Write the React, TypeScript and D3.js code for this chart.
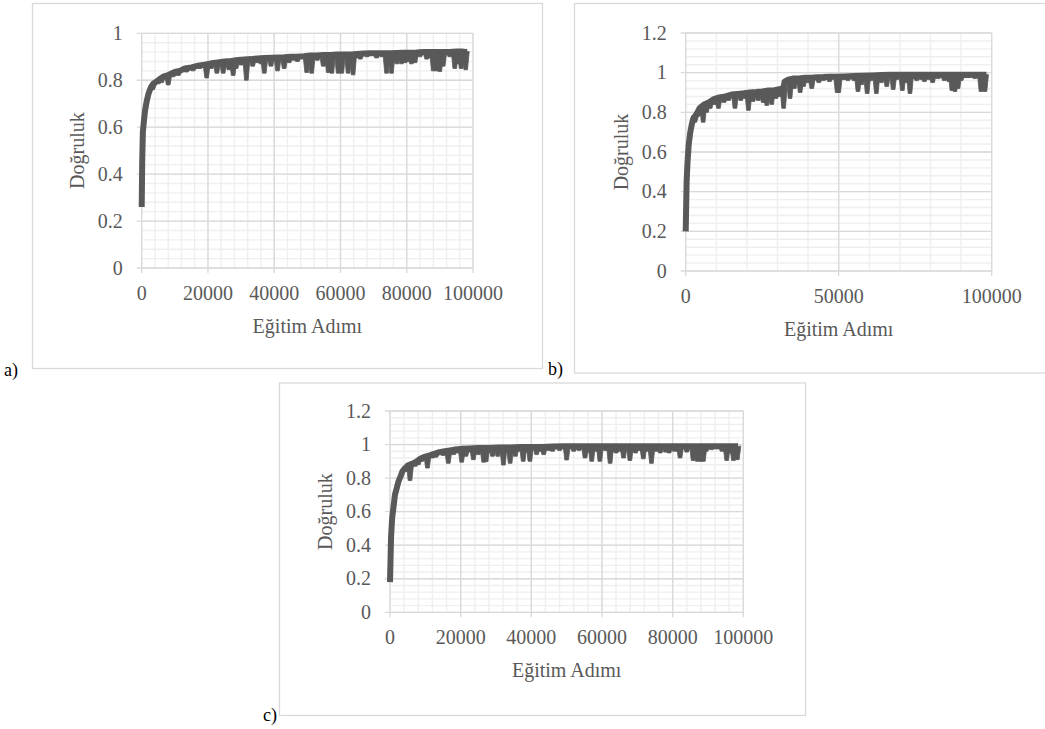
import { useEffect, useRef } from "react";
import * as d3 from "d3";

// accuracy curves: upper envelope [step, accuracy]
const seriesA = [
  [0, 0.26], [150, 0.45], [350, 0.58], [700, 0.63], [1000, 0.67], [1500, 0.71],
  [2000, 0.74], [2500, 0.76], [3000, 0.775], [3500, 0.785], [4500, 0.795],
  [5500, 0.805], [6500, 0.815], [8000, 0.822], [10000, 0.835], [11500, 0.84],
  [13000, 0.85], [15000, 0.855], [17000, 0.862], [19000, 0.866], [21000, 0.872],
  [23000, 0.876], [25000, 0.88], [27000, 0.882], [29000, 0.886], [31000, 0.888],
  [33000, 0.89], [35000, 0.893], [37000, 0.895], [39000, 0.896], [41000, 0.897],
  [43000, 0.898], [45000, 0.9], [47000, 0.9], [49000, 0.902], [51000, 0.905],
  [53000, 0.905], [55000, 0.908], [57000, 0.908], [59000, 0.91], [61000, 0.91],
  [63000, 0.91], [65000, 0.912], [67000, 0.914], [69000, 0.915], [71000, 0.915],
  [73000, 0.915], [75000, 0.915], [77000, 0.916], [79000, 0.917], [81000, 0.917],
  [83000, 0.918], [85000, 0.92], [87000, 0.92], [89000, 0.92], [91000, 0.92],
  [93000, 0.92], [95000, 0.922], [97000, 0.922], [98200, 0.92],
];
// drops below the envelope: [step, accuracy before, accuracy at the drop]
const dipsA = [
  [3300, 0.78, 0.76], [5000, 0.8, 0.785], [6000, 0.81, 0.79], [8000, 0.822, 0.78],
  [9500, 0.832, 0.815], [11000, 0.838, 0.82], [13500, 0.851, 0.835], [15500, 0.856, 0.84],
  [17500, 0.863, 0.85], [19600, 0.868, 0.81], [21000, 0.872, 0.85], [22700, 0.876, 0.83],
  [23800, 0.877, 0.86], [24600, 0.879, 0.83], [26300, 0.881, 0.845], [27600, 0.883, 0.82],
  [28500, 0.885, 0.85], [30000, 0.887, 0.865], [31600, 0.888, 0.8], [33500, 0.89, 0.86],
  [35000, 0.893, 0.875], [36000, 0.894, 0.87], [37000, 0.895, 0.83], [39000, 0.896, 0.86],
  [41000, 0.897, 0.84], [43000, 0.898, 0.85], [44500, 0.899, 0.875], [46000, 0.9, 0.885],
  [47000, 0.9, 0.88], [49800, 0.902, 0.833], [51300, 0.905, 0.83], [53000, 0.905, 0.885],
  [54800, 0.908, 0.86], [56300, 0.908, 0.833], [57400, 0.908, 0.83], [58500, 0.91, 0.89],
  [59300, 0.91, 0.83], [60400, 0.91, 0.83], [62300, 0.91, 0.83], [63800, 0.91, 0.823],
  [65000, 0.912, 0.895], [66000, 0.913, 0.89], [68000, 0.914, 0.9], [70900, 0.915, 0.895],
  [72500, 0.915, 0.9], [73900, 0.915, 0.83], [75400, 0.915, 0.83], [77000, 0.916, 0.87],
  [78400, 0.917, 0.87], [79500, 0.917, 0.875], [80500, 0.917, 0.88], [81400, 0.917, 0.87],
  [82500, 0.918, 0.875], [84000, 0.919, 0.9], [86000, 0.92, 0.89], [87000, 0.92, 0.895],
  [88000, 0.92, 0.84], [89000, 0.92, 0.84], [90000, 0.92, 0.837], [91000, 0.92, 0.86],
  [93000, 0.92, 0.9], [94500, 0.922, 0.85], [95500, 0.922, 0.87], [96400, 0.922, 0.85],
  [97800, 0.922, 0.845],
];

const seriesB = [
  [0, 0.2], [300, 0.45], [600, 0.55], [1000, 0.64], [1500, 0.7], [2000, 0.74],
  [2500, 0.77], [3500, 0.79], [4500, 0.82], [6000, 0.84], [7500, 0.85], [9000, 0.865],
  [11000, 0.875], [13000, 0.88], [15000, 0.89], [17000, 0.893], [19000, 0.896],
  [21000, 0.9], [23000, 0.902], [25000, 0.905], [27000, 0.91], [29000, 0.912],
  [31000, 0.918], [32000, 0.925], [32300, 0.955], [33500, 0.965], [35000, 0.97],
  [37000, 0.971], [39000, 0.974], [41000, 0.975], [43000, 0.977], [45000, 0.978],
  [47000, 0.98], [49000, 0.98], [52000, 0.981], [55000, 0.983], [58000, 0.985],
  [61000, 0.986], [64000, 0.988], [67000, 0.99], [70000, 0.99], [73000, 0.99],
  [76000, 0.99], [79000, 0.99], [82000, 0.99], [85000, 0.99], [88000, 0.99],
  [91000, 0.99], [94000, 0.99], [98300, 0.99],
];
const dipsB = [
  [3000, 0.78, 0.75], [4000, 0.8, 0.78], [5700, 0.835, 0.75], [6800, 0.842, 0.8],
  [8000, 0.855, 0.82], [9500, 0.867, 0.84], [10700, 0.873, 0.82], [12500, 0.878, 0.85],
  [14000, 0.885, 0.86], [16100, 0.892, 0.82], [18000, 0.895, 0.86], [19500, 0.897, 0.87],
  [20500, 0.9, 0.81], [22000, 0.9, 0.855], [23700, 0.903, 0.86], [24500, 0.904, 0.88],
  [25300, 0.905, 0.85], [26500, 0.908, 0.835], [27500, 0.91, 0.88], [28100, 0.911, 0.84],
  [29500, 0.913, 0.87], [30800, 0.917, 0.88], [31500, 0.92, 0.89], [32000, 0.925, 0.82],
  [34100, 0.966, 0.87], [35500, 0.97, 0.92], [36500, 0.97, 0.945], [37400, 0.971, 0.9],
  [38500, 0.972, 0.93], [40000, 0.975, 0.95], [41200, 0.975, 0.92], [43500, 0.977, 0.95],
  [45000, 0.978, 0.96], [47000, 0.98, 0.955], [49500, 0.98, 0.9], [50000, 0.98, 0.9],
  [51500, 0.981, 0.965], [53000, 0.981, 0.96], [55000, 0.983, 0.96], [56300, 0.984, 0.905],
  [57500, 0.984, 0.94], [59300, 0.985, 0.895], [60500, 0.986, 0.96], [62300, 0.987, 0.895],
  [64000, 0.988, 0.95], [65700, 0.989, 0.93], [67800, 0.99, 0.915], [69000, 0.99, 0.965],
  [70800, 0.99, 0.91], [72000, 0.99, 0.95], [73300, 0.99, 0.895], [74500, 0.99, 0.97],
  [75500, 0.99, 0.96], [77000, 0.99, 0.965], [78000, 0.99, 0.955], [79500, 0.99, 0.965],
  [80700, 0.99, 0.95], [82500, 0.99, 0.97], [84500, 0.99, 0.96], [86000, 0.99, 0.955],
  [87000, 0.99, 0.91], [88000, 0.99, 0.905], [89000, 0.99, 0.92], [90000, 0.99, 0.96],
  [91000, 0.99, 0.975], [92500, 0.99, 0.975], [94500, 0.99, 0.97], [96500, 0.99, 0.905],
  [97800, 0.99, 0.905],
];

const seriesC = [
  [0, 0.18], [300, 0.45], [600, 0.56], [950, 0.62], [1400, 0.7], [1900, 0.74],
  [2400, 0.78], [3000, 0.81], [3500, 0.84], [4300, 0.86], [5000, 0.875],
  [6200, 0.885], [7600, 0.9], [8500, 0.915], [10000, 0.928], [11500, 0.937],
  [12500, 0.945], [14000, 0.955], [15500, 0.96], [17000, 0.965], [18500, 0.97],
  [20500, 0.975], [22500, 0.977], [25000, 0.98], [28000, 0.98], [31000, 0.982],
  [34000, 0.983], [37000, 0.985], [40000, 0.985], [43000, 0.986], [46000, 0.988],
  [49000, 0.99], [55000, 0.99], [61000, 0.99], [67000, 0.99], [73000, 0.99],
  [79000, 0.99], [85000, 0.99], [91000, 0.99], [98500, 0.99],
];
const dipsC = [
  [4500, 0.865, 0.84], [5660, 0.88, 0.785], [7100, 0.895, 0.87], [8000, 0.91, 0.88],
  [9000, 0.92, 0.9], [10600, 0.933, 0.86], [12000, 0.94, 0.92], [13000, 0.95, 0.925],
  [15000, 0.958, 0.935], [16500, 0.963, 0.888], [18000, 0.968, 0.94], [19000, 0.972, 0.95],
  [20300, 0.975, 0.895], [21500, 0.976, 0.93], [22500, 0.977, 0.955], [23600, 0.978, 0.91],
  [25000, 0.98, 0.94], [26500, 0.98, 0.895], [27200, 0.98, 0.898], [28000, 0.98, 0.955],
  [29000, 0.98, 0.93], [30500, 0.98, 0.93], [32100, 0.982, 0.878], [33000, 0.982, 0.955],
  [34000, 0.983, 0.888], [35500, 0.984, 0.93], [36500, 0.985, 0.96], [37700, 0.985, 0.9],
  [38500, 0.985, 0.955], [39600, 0.985, 0.9], [41500, 0.985, 0.94], [42500, 0.986, 0.96],
  [43500, 0.986, 0.94], [45000, 0.987, 0.965], [46000, 0.988, 0.96], [48000, 0.99, 0.965],
  [50000, 0.99, 0.908], [52000, 0.99, 0.96], [53500, 0.99, 0.965], [55200, 0.99, 0.92],
  [56000, 0.99, 0.955], [57100, 0.99, 0.9], [58300, 0.99, 0.96], [59400, 0.99, 0.9],
  [61000, 0.99, 0.965], [62300, 0.99, 0.888], [63000, 0.99, 0.96], [64000, 0.99, 0.95],
  [65000, 0.99, 0.96], [66100, 0.99, 0.92], [67900, 0.99, 0.905], [68800, 0.99, 0.96],
  [69500, 0.99, 0.95], [70500, 0.99, 0.965], [71700, 0.99, 0.915], [73000, 0.99, 0.96],
  [74000, 0.99, 0.888], [75500, 0.99, 0.96], [76500, 0.99, 0.95], [78000, 0.99, 0.955],
  [79000, 0.99, 0.95], [80500, 0.99, 0.96], [81500, 0.99, 0.96], [82100, 0.99, 0.92],
  [84000, 0.99, 0.955], [85800, 0.99, 0.905], [86500, 0.99, 0.95], [87000, 0.99, 0.9],
  [88000, 0.99, 0.9], [88700, 0.99, 0.9], [89500, 0.99, 0.96], [91000, 0.99, 0.97],
  [92500, 0.99, 0.975], [94000, 0.99, 0.96], [95300, 0.99, 0.905], [96500, 0.99, 0.95],
  [97200, 0.99, 0.905], [98300, 0.99, 0.91],
];

const yTicksA = [0, 0.2, 0.4, 0.6, 0.8, 1];
const yTicksBC = [0, 0.2, 0.4, 0.6, 0.8, 1, 1.2];
const xTicksAC = [0, 20000, 40000, 60000, 80000, 100000];
const xTicksB = [0, 50000, 100000];
const xTitle = "Eğitim Adımı";
const yTitle = "Doğruluk";
const panelLabels = ["a)", "b)", "c)"];

const W = 1045;
const H = 729;
const FONT = '"Liberation Serif", "DejaVu Serif", serif';
const INK = "#595959";

const panels = [
  {
    frame: [32, 3, 542, 368],
    plot: { l: 141.7, t: 33.3, r: 473, b: 268 },
    yMax: 1, yTicks: yTicksA, xTicks: xTicksAC, xMinor: 4000,
    data: seriesA, dips: dipsA, label: panelLabels[0], labelPos: [4, 376],
  },
  {
    frame: [574, 3, 1060, 372.5],
    plot: { l: 685.7, t: 33, r: 991.7, b: 271 },
    yMax: 1.2, yTicks: yTicksBC, xTicks: xTicksB, xMinor: 10000,
    data: seriesB, dips: dipsB, label: panelLabels[1], labelPos: [548, 375],
  },
  {
    frame: [279, 382.5, 805, 715],
    plot: { l: 390, t: 411, r: 743.3, b: 612.3 },
    yMax: 1.2, yTicks: yTicksBC, xTicks: xTicksAC, xMinor: 4000,
    data: seriesC, dips: dipsC, label: panelLabels[2], labelPos: [263, 721],
  },
];

export default function App() {
  const ref = useRef<SVGSVGElement>(null);

  useEffect(() => {
    const svg = d3.select(ref.current);
    svg.selectAll("*").remove();

    panels.forEach((p) => {
      const [fx0, fy0, fx1, fy1] = p.frame;
      const { l, t, r, b } = p.plot;
      const g = svg.append("g");

      // outer chart frame
      g.append("rect")
        .attr("x", fx0 + 0.5)
        .attr("y", fy0 + 0.5)
        .attr("width", fx1 - fx0)
        .attr("height", fy1 - fy0)
        .attr("fill", "#fff")
        .attr("stroke", "#d9d9d9")
        .attr("stroke-width", 1.3);

      const x = d3.scaleLinear().domain([0, 100000]).range([l, r]);
      const y = d3.scaleLinear().domain([0, p.yMax]).range([b, t]);

      // minor grid
      const yMinor = d3.range(0, p.yMax + 1e-9, 0.04);
      const xMinor = d3.range(0, 100000 + 1, p.xMinor);
      g.append("g")
        .selectAll("line")
        .data(yMinor)
        .enter()
        .append("line")
        .attr("x1", l).attr("x2", r)
        .attr("y1", (d) => y(d)).attr("y2", (d) => y(d))
        .attr("stroke", "#efefef")
        .attr("stroke-width", 1.4);
      g.append("g")
        .selectAll("line")
        .data(xMinor)
        .enter()
        .append("line")
        .attr("y1", t).attr("y2", b)
        .attr("x1", (d) => x(d)).attr("x2", (d) => x(d))
        .attr("stroke", "#efefef")
        .attr("stroke-width", 1.4);

      // major grid + tick marks
      g.append("g")
        .selectAll("line")
        .data(p.yTicks)
        .enter()
        .append("line")
        .attr("x1", l - 5).attr("x2", r)
        .attr("y1", (d) => y(d)).attr("y2", (d) => y(d))
        .attr("stroke", "#d9d9d9")
        .attr("stroke-width", 1.3);
      g.append("g")
        .selectAll("line")
        .data(p.xTicks)
        .enter()
        .append("line")
        .attr("y1", t).attr("y2", b + 5)
        .attr("x1", (d) => x(d)).attr("x2", (d) => x(d))
        .attr("stroke", "#d9d9d9")
        .attr("stroke-width", 1.3);

      // tick labels
      g.append("g")
        .selectAll("text")
        .data(p.yTicks)
        .enter()
        .append("text")
        .attr("x", l - 19)
        .attr("y", (d) => y(d) + 6.5)
        .attr("text-anchor", "end")
        .attr("font-family", FONT)
        .attr("font-size", 20)
        .attr("fill", INK)
        .text((d) => String(d));
      g.append("g")
        .selectAll("text")
        .data(p.xTicks)
        .enter()
        .append("text")
        .attr("x", (d) => x(d))
        .attr("y", b + 32)
        .attr("text-anchor", "middle")
        .attr("font-family", FONT)
        .attr("font-size", 20)
        .attr("fill", INK)
        .text((d) => String(d));

      // axis titles
      g.append("text")
        .attr("x", (l + r) / 2)
        .attr("y", b + 65)
        .attr("text-anchor", "middle")
        .attr("font-family", FONT)
        .attr("font-size", 20)
        .attr("fill", INK)
        .text(xTitle);
      g.append("text")
        .attr("transform", `translate(${l - 58},${(t + b) / 2}) rotate(-90)`)
        .attr("text-anchor", "middle")
        .attr("font-family", FONT)
        .attr("font-size", 20)
        .attr("fill", INK)
        .text(yTitle);

      // accuracy line (upper envelope)
      const line = d3
        .line()
        .x((d) => x(d[0]))
        .y((d) => y(d[1]));
      g.append("path")
        .datum(p.data)
        .attr("d", line)
        .attr("fill", "none")
        .attr("stroke", INK)
        .attr("stroke-width", 6)
        .attr("stroke-linejoin", "round");

      // drops in accuracy, drawn as tapered spikes
      g.append("g")
        .selectAll("path")
        .data(p.dips)
        .enter()
        .append("path")
        .attr("d", (d) => {
          const cx = x(d[0]);
          const y0 = y(d[1]);
          const y1 = y(d[2]);
          return `M${cx - 3.5},${y0}L${cx + 3.5},${y0}L${cx + 1.8},${y1}L${cx - 1.8},${y1}Z`;
        })
        .attr("fill", INK)
        .attr("stroke", INK)
        .attr("stroke-width", 0.8)
        .attr("stroke-linejoin", "round");

      // panel letter
      g.append("text")
        .attr("x", p.labelPos[0])
        .attr("y", p.labelPos[1])
        .attr("font-family", FONT)
        .attr("font-size", 18)
        .attr("fill", "#000")
        .text(p.label);
    });
  }, []);

  return (
    <svg
      ref={ref}
      width={W}
      height={H}
      style={{ position: "absolute", left: 0, top: 0, background: "#fff" }}
    />
  );
}
